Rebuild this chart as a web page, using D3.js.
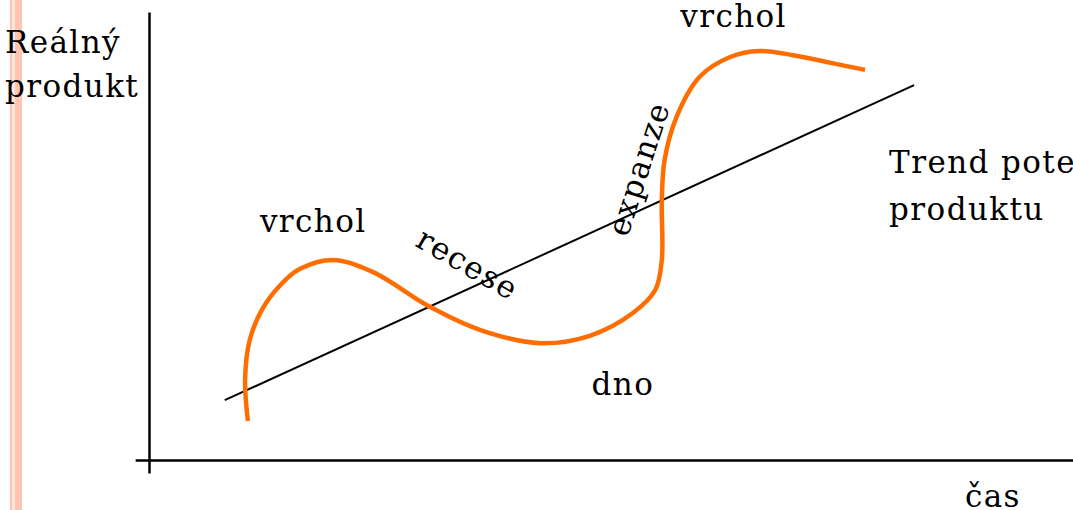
<!DOCTYPE html>
<html>
<head>
<meta charset="utf-8">
<script src="https://cdn.jsdelivr.net/npm/d3@7"></script>
<style>
  body { margin: 0; background: #fff; overflow: hidden; }
  text { font-family: "DejaVu Serif", serif; fill: #000; letter-spacing: 1.4px; }
</style>
</head>
<body>
<svg id="chart" width="1073" height="510"></svg>
<script>
// business cycle, values in arbitrary units (time 0..100, output 0..100)
var cycleTime   = [10.7, 10.4, 10.9, 12.2, 14.2, 16.3, 19.9, 24.2, 30.4, 35.8, 42.3, 47.7, 52.4, 54.8, 55.5, 55.5, 55.8, 57.1, 59.6, 62.9, 66.1, 69.7, 73.4, 77.5];
var cycleOutput = [ 8.5, 17.4, 26.1, 32.6, 38.0, 41.5, 43.5, 40.9, 33.3, 28.3, 25.4, 27.0, 32.0, 37.0, 43.5, 56.5, 65.2, 74.6, 83.3, 87.6, 88.9, 88.0, 86.5, 84.8];
var trendTime   = [8.2, 82.8];
var trendOutput = [13.0, 81.5];
// labels and where they sit (same units)
var labelText = ["vrchol", "vrchol", "recese", "expanze", "dno", "Trend potenciálního", "produktu", "čas"];
var labelTime = [57.5, 12.0, 33.9, 54.1, 47.9, 80.1, 80.1, 88.3];
var labelOut  = [94.1, 49.6, 40.6, 62.6, 14.1, 62.4, 52.2, -10.2];
var labelRot  = [0, 0, 30, -72, 0, 0, 0, 0];
var labelAnchor = ["start", "start", "middle", "middle", "start", "start", "start", "start"];

var W = 1073, H = 510;
var svg = d3.select("#chart");

var x = d3.scaleLinear().domain([0, 100]).range([149, 1073]),
  y = d3.scaleLinear().domain([0, 100]).range([460, 0]);

// pink side stripes
svg.append("rect").attr("x", 10).attr("y", 0).attr("width", 2).attr("height", H).attr("fill", "#ffc4b2");
svg.append("rect").attr("x", 12).attr("y", 0).attr("width", 3).attr("height", H).attr("fill", "#ffe6dc");
svg.append("rect").attr("x", 15).attr("y", 0).attr("width", 7).attr("height", H).attr("fill", "#ffc4b2");

// axes, drawn by d3 without ticks
var yAxisScale = y.copy().domain([97.4, -2.8]).range([y(97.4), y(-2.8)]);
svg.append("g")
  .attr("transform", "translate(" + x(0) + ",0)")
  .call(d3.axisLeft(yAxisScale).tickValues([]).tickSizeOuter(0))
  .select(".domain").attr("stroke", "#000").attr("stroke-width", 2.5);

var xAxisScale = x.copy().domain([-1.5, 100]).range([x(-1.5), x(100)]);
svg.append("g")
  .attr("transform", "translate(0," + y(0) + ")")
  .call(d3.axisBottom(xAxisScale).tickValues([]).tickSizeOuter(0))
  .select(".domain").attr("stroke", "#000").attr("stroke-width", 2.5);

// trend line
svg.append("path")
  .datum(d3.zip(trendTime, trendOutput))
  .attr("fill", "none")
  .attr("stroke", "#000")
  .attr("stroke-width", 2)
  .attr("d", d3.line().x(function(d){ return x(d[0]); }).y(function(d){ return y(d[1]); }));

// cycle curve
svg.append("path")
  .datum(d3.zip(cycleTime, cycleOutput))
  .attr("fill", "none")
  .attr("stroke", "#ff6d00")
  .attr("stroke-width", 4.5)
  .attr("d", d3.line().curve(d3.curveCatmullRom.alpha(0.5))
    .x(function(d){ return x(d[0]); }).y(function(d){ return y(d[1]); }));

// axis title
svg.append("text").attr("x", 5).attr("y", 53).attr("font-size", 31).text("Reálný");
svg.append("text").attr("x", 5).attr("y", 97).attr("font-size", 31).text("produkt");

svg.selectAll("text.lbl")
  .data(labelText)
  .enter().append("text")
  .attr("class", "lbl")
  .attr("font-size", 31)
  .attr("text-anchor", function(d, i){ return labelAnchor[i]; })
  .attr("transform", function(d, i){
    return "translate(" + x(labelTime[i]) + "," + y(labelOut[i]) + ") rotate(" + labelRot[i] + ")";
  })
  .text(function(d){ return d; });
</script>
</body>
</html>
